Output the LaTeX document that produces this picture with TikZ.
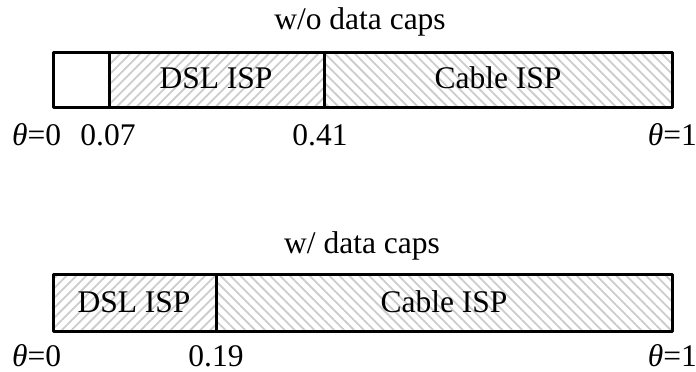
\documentclass[tikz,border=0pt]{standalone}
\usepackage{fontspec}
\setmainfont{Liberation Serif}
\usetikzlibrary{patterns.meta}
\tikzset{
  bar/.style={line width=3pt},
  dslfill/.style={pattern={Lines[angle=45,distance=7pt,line width=1.8pt]},pattern color=black!20},
  cablefill/.style={pattern={Lines[angle=-45,distance=7pt,line width=1.8pt]},pattern color=black!20},
  lab/.style={anchor=base,inner sep=0pt}
}
\begin{document}
\begin{tikzpicture}[x=1pt, y=-1pt, font=\fontsize{31.5pt}{38pt}\selectfont, line join=round]
\useasboundingbox (0,0) rectangle (696,372);
% w/o data caps
\fill[dslfill] (109,52) rectangle (324,107);
\fill[cablefill] (324,52) rectangle (672,107);
\draw[bar] (53,52) rectangle (672,107);
\draw[bar] (109,52)--(109,107) (324,52)--(324,107);
\node[lab] (title1) at (360,29) {w/o data caps};
\node[lab] (dsl1) at (216,88) {DSL ISP};
\node[lab] (cable1) at (498,88) {Cable ISP};
\node[lab,anchor=base west] (zero1) at (12,145) {\textit{θ}=0};
\foreach \x/\t in {108/0.07, 320/0.41}
  \node[lab] (tick\t) at (\x,145) {\t};
\node[lab,anchor=base east] (one1) at (697,145) {\textit{θ}=1};
% w/ data caps
\fill[dslfill] (53,274) rectangle (216,331);
\fill[cablefill] (216,274) rectangle (672,331);
\draw[bar] (53,274) rectangle (672,331);
\draw[bar] (216,274)--(216,331);
\node[lab] (title2) at (362,253) {w/ data caps};
\node[lab] (dsl2) at (134,312) {DSL ISP};
\node[lab] (cable2) at (444,312) {Cable ISP};
\node[lab,anchor=base west] (zero2) at (12,366) {\textit{θ}=0};
\node[lab] (tick0.19) at (216,366) {0.19};
\node[lab,anchor=base east] (one2) at (697,366) {\textit{θ}=1};
\end{tikzpicture}
\end{document}
